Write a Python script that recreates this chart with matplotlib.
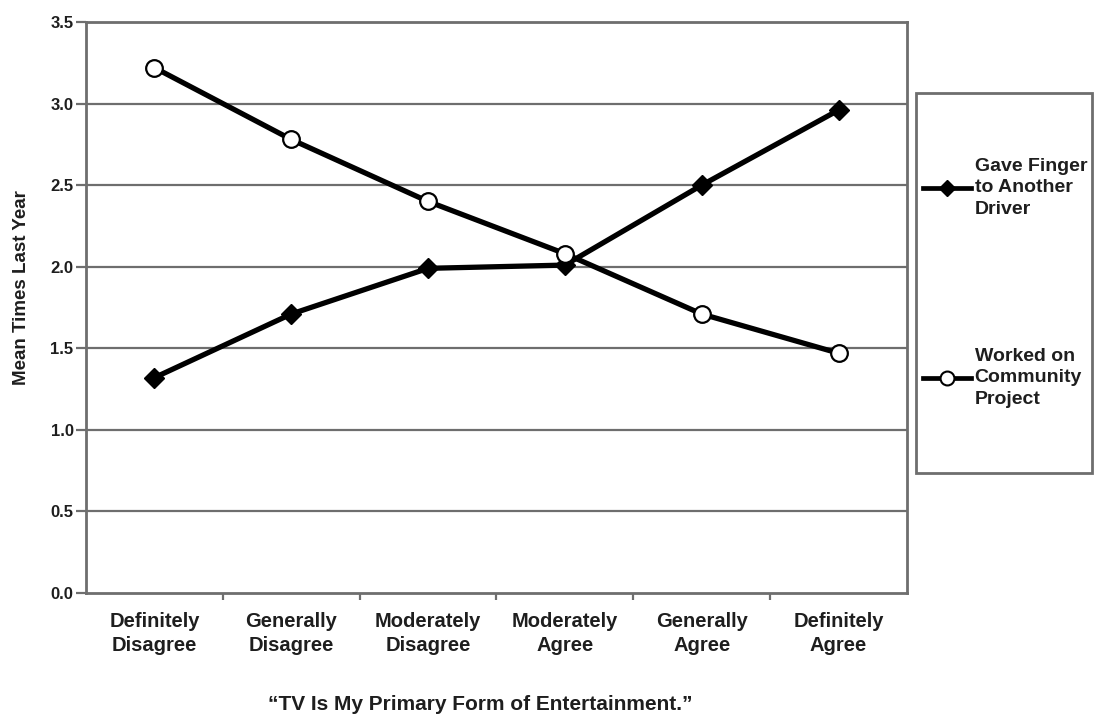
import matplotlib
matplotlib.use("Agg")
import matplotlib.pyplot as plt
from matplotlib.lines import Line2D
from matplotlib.patches import Rectangle

plt.rcParams['font.family'] = ['Liberation Sans', 'DejaVu Sans']
plt.rcParams['font.weight'] = 'bold'

categories = ["Definitely\nDisagree", "Generally\nDisagree", "Moderately\nDisagree",
              "Moderately\nAgree", "Generally\nAgree", "Definitely\nAgree"]
gave_finger = [1.32, 1.71, 1.99, 2.01, 2.50, 2.96]
community = [3.22, 2.78, 2.40, 2.08, 1.71, 1.47]
y_ticks = [0.0, 0.5, 1.0, 1.5, 2.0, 2.5, 3.0, 3.5]
series_labels = ["Gave Finger\nto Another\nDriver", "Worked on\nCommunity\nProject"]

W, H = 1094, 715
fig = plt.figure(figsize=(W / 100, H / 100), dpi=100)
ax = fig.add_axes([86 / W, 1 - 593 / H, (907 - 86) / W, (593 - 22) / H])

grid_col = '#6e6e6e'
text_col = '#1e1e1e'
x = list(range(len(categories)))

for yv in y_ticks[1:]:
    ax.axhline(yv, color=grid_col, lw=1.6, zorder=1)

ax.plot(x, gave_finger, color='black', lw=3.8, marker='D', ms=10,
        mfc='black', mec='black', zorder=3)
ax.plot(x, community, color='black', lw=3.8, marker='o', ms=12,
        mfc='white', mec='black', mew=1.6, zorder=4)

ax.set_xlim(-0.5, len(categories) - 0.5)
ax.set_ylim(0, 3.5)
ax.set_yticks(y_ticks)
ax.set_yticklabels([f"{v:.1f}" for v in y_ticks], fontsize=12, fontweight='bold', color=text_col)
ax.set_xticks([i + 0.5 for i in range(len(categories) - 1)])
ax.set_xticklabels([])
ax.set_xticks(x, minor=True)
ax.set_xticklabels(categories, minor=True, fontsize=14.5, fontweight='bold',
                   color=text_col, linespacing=1.3)
ax.tick_params(axis='x', which='minor', length=0, pad=14)
ax.tick_params(axis='x', which='major', length=5, width=1.6, color=grid_col, direction='out')
ax.tick_params(axis='y', length=7, width=1.6, color=grid_col, pad=2)

for s in ax.spines.values():
    s.set_color(grid_col)
    s.set_linewidth(2.0)

ax.set_ylabel("Mean Times Last Year", fontsize=13.5, fontweight='bold', color=text_col)
ax.yaxis.set_label_coords(-0.068, 0.535)
fig.text(480 / W, 1 - 705 / H, "\u201cTV Is My Primary Form of Entertainment.\u201d",
         ha='center', va='center', fontsize=15, fontweight='bold', color=text_col)

# legend frame
box = Rectangle((916 / W, 1 - 473 / H), (1092 - 916) / W, (473 - 93) / H,
                transform=fig.transFigure, fill=False, edgecolor=grid_col, lw=2.0)
fig.add_artist(box)

handles = [
    Line2D([], [], color='black', lw=3.4, marker='D', ms=8, mfc='black', mec='black'),
    Line2D([], [], color='black', lw=3.4, marker='o', ms=10, mfc='white', mec='black', mew=1.5),
]
entry_y = [188, 378]
for h, lab, yy in zip(handles, series_labels, entry_y):
    leg = fig.legend([h], [lab], loc='center left', bbox_to_anchor=(923 / W, 1 - yy / H),
                     frameon=False, prop={'size': 14, 'weight': 'bold'},
                     handlelength=2.45, handletextpad=0.2, borderpad=0, borderaxespad=0)
    for t in leg.get_texts():
        t.set_color(text_col)
        t.set_linespacing(1.35)

fig.savefig("out.png", dpi=100)
